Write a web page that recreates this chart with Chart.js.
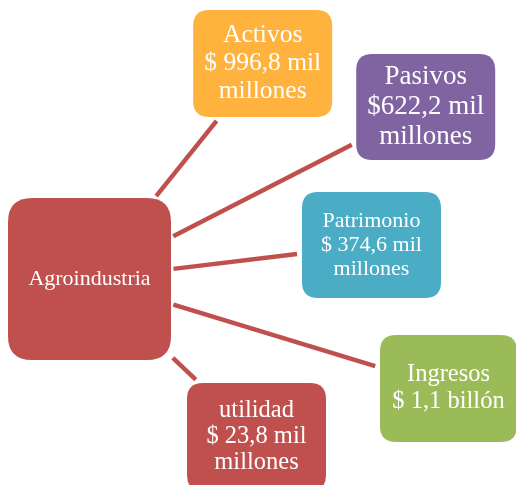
<!DOCTYPE html>
<html>
<head>
<meta charset="utf-8">
<script src="https://cdn.jsdelivr.net/npm/chart.js@4"></script>
<style>
    html, body { margin: 0; padding: 0; background: #ffffff; }
    #wrap { width: 516px; height: 485px; }
</style>
</head>
<body>
<div id="wrap"><canvas id="chart" width="516" height="485"></canvas></div>
<script>
// Diagram content: one hub and five satellites
const nodeNames = ['Agroindustria', 'Activos', 'Pasivos', 'Patrimonio', 'Ingresos', 'utilidad'];
const nodeLines = [
    ['Agroindustria'],
    ['Activos', '$ 996,8 mil', 'millones'],
    ['Pasivos', '$622,2 mil', 'millones'],
    ['Patrimonio', '$ 374,6 mil', 'millones'],
    ['Ingresos', '$ 1,1 billón'],
    ['utilidad', '$ 23,8 mil', 'millones']
];
// node centres, in the diagram's own units (x: 0..516, y: 0..485, top down)
const nodeX = [89.5, 262.7, 425.7, 371.5, 448.5, 256.5];
const nodeY = [279, 63.5, 107, 245, 388.5, 437];

// layout / style, kept apart from the values
const nodeW = [163, 139, 139, 139, 137, 139];
const nodeH = [162, 107, 106, 106, 107, 108];
const nodeColors = ['#C0504D', '#FFB23E', '#8064A2', '#4BACC6', '#9BBB59', '#C0504D'];
const nodeFont = [22, 25.5, 27, 22, 24.5, 24.5];
const nodeLineH = [24, 28, 30, 24, 27, 26];
const hub = 0;

// clip the centre-to-centre segment so it stops short of both boxes
function exitT(cx, cy, dx, dy, w, h) {
    const tx = dx !== 0 ? (w / 2) / Math.abs(dx) : Infinity;
    const ty = dy !== 0 ? (h / 2) / Math.abs(dy) : Infinity;
    return Math.min(tx, ty);
}

const linkSets = [];
for (let i = 1; i < nodeNames.length; i++) {
    const dx = nodeX[i] - nodeX[hub];
    const dy = nodeY[i] - nodeY[hub];
    const len = Math.hypot(dx, dy);
    const t0 = exitT(nodeX[hub], nodeY[hub], dx, dy, nodeW[hub], nodeH[hub]) + 2.5 / len;
    const t1 = 1 - exitT(nodeX[i], nodeY[i], -dx, -dy, nodeW[i], nodeH[i]) - 5 / len;
    linkSets.push({
        label: nodeNames[hub] + ' - ' + nodeNames[i],
        data: [
            { x: nodeX[hub] + dx * t0, y: nodeY[hub] + dy * t0 },
            { x: nodeX[hub] + dx * t1, y: nodeY[hub] + dy * t1 }
        ],
        showLine: true,
        borderColor: '#C0504D',
        borderWidth: 4.5,
        borderCapStyle: 'butt',
        pointRadius: 0,
        pointHoverRadius: 0
    });
}

function roundRect(ctx, x, y, w, h, r) {
    ctx.beginPath();
    ctx.moveTo(x + r, y);
    ctx.lineTo(x + w - r, y);
    ctx.quadraticCurveTo(x + w, y, x + w, y + r);
    ctx.lineTo(x + w, y + h - r);
    ctx.quadraticCurveTo(x + w, y + h, x + w - r, y + h);
    ctx.lineTo(x + r, y + h);
    ctx.quadraticCurveTo(x, y + h, x, y + h - r);
    ctx.lineTo(x, y + r);
    ctx.quadraticCurveTo(x, y, x + r, y);
    ctx.closePath();
}

const boxPlugin = {
    id: 'boxes',
    afterDatasetsDraw(chart) {
        const ctx = chart.ctx;
        const sx = chart.scales.x;
        const sy = chart.scales.y;
        ctx.save();
        for (let i = 0; i < nodeNames.length; i++) {
            const left = sx.getPixelForValue(nodeX[i] - nodeW[i] / 2);
            const right = sx.getPixelForValue(nodeX[i] + nodeW[i] / 2);
            const top = sy.getPixelForValue(nodeY[i] - nodeH[i] / 2);
            const bottom = sy.getPixelForValue(nodeY[i] + nodeH[i] / 2);
            const r = i === hub ? 24 : 16;
            roundRect(ctx, left, top, right - left, bottom - top, r);
            ctx.fillStyle = nodeColors[i];
            ctx.fill();

            const lines = nodeLines[i];
            const cx = sx.getPixelForValue(nodeX[i]);
            const cy = sy.getPixelForValue(nodeY[i]);
            ctx.fillStyle = '#ffffff';
            ctx.textAlign = 'center';
            ctx.textBaseline = 'middle';
            ctx.font = nodeFont[i] + 'px "Liberation Serif", "DejaVu Serif", serif';
            const start = cy - (lines.length - 1) * nodeLineH[i] / 2;
            lines.forEach((line, k) => {
                ctx.fillText(line, cx, start + k * nodeLineH[i]);
            });
        }
        ctx.restore();
    }
};

new Chart(document.getElementById('chart').getContext('2d'), {
    type: 'scatter',
    data: { datasets: linkSets },
    options: {
        responsive: false,
        animation: false,
        layout: { padding: 0 },
        scales: {
            x: { type: 'linear', min: 0, max: 516, display: false },
            y: { type: 'linear', min: 0, max: 485, reverse: true, display: false }
        },
        plugins: {
            legend: { display: false },
            tooltip: { enabled: false }
        }
    },
    plugins: [boxPlugin]
});
</script>
</body>
</html>
